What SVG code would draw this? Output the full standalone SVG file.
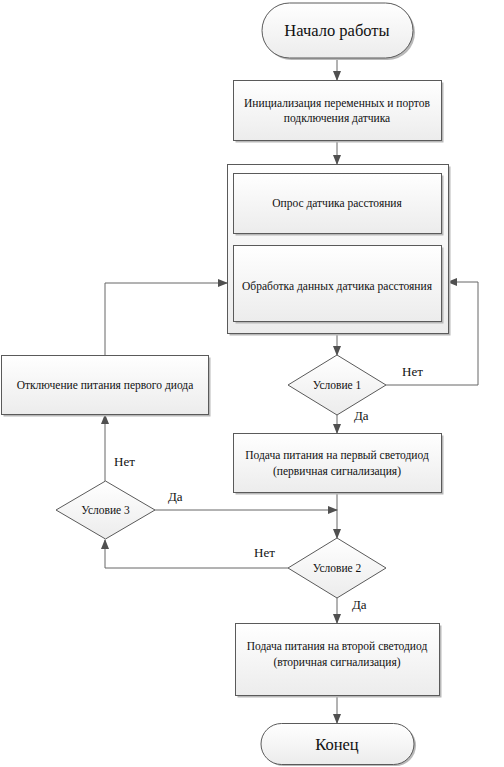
<svg xmlns="http://www.w3.org/2000/svg" width="504" height="767" viewBox="0 0 504 767">
<defs>
<linearGradient id="g" x1="0" y1="0" x2="0" y2="1">
<stop offset="0" stop-color="#ffffff"/>
<stop offset="1" stop-color="#ececec"/>
</linearGradient>
<marker id="ah" markerWidth="10" markerHeight="8" refX="9" refY="4" orient="auto" markerUnits="userSpaceOnUse">
<path d="M0,0 L10,4 L0,8 Z" fill="#505050"/>
</marker>
<style>
.sh{fill:#b8b8b8;stroke:none}
.nd{fill:url(#g);stroke:#5a5a5a;stroke-width:1}
text{font-family:'Liberation Serif','Times New Roman',serif;fill:#111}
.t{font-size:11.5px;text-anchor:middle}
.big{font-size:16.5px;text-anchor:middle}
.lb{font-size:13px}
.c{fill:none;stroke:#666;stroke-width:1}
</style>
</defs>
<rect width="504" height="767" fill="#fff"/>

<g id="connectors">
<line class="c" x1="337" y1="58" x2="337" y2="80" marker-end="url(#ah)"/>
<line class="c" x1="337" y1="140" x2="337" y2="164" marker-end="url(#ah)"/>
<line class="c" x1="337" y1="333" x2="337" y2="355" marker-end="url(#ah)"/>
<polyline class="c" points="386,385 478,385 478,282 448,282" marker-end="url(#ah)"/>
<line class="c" x1="337" y1="415" x2="337" y2="433" marker-end="url(#ah)"/>
<line class="c" x1="337" y1="492" x2="337" y2="538" marker-end="url(#ah)"/>
<polyline class="c" points="155,510 337,510" marker-end="url(#ah)"/>
<polyline class="c" points="288,568 105,568 105,540" marker-end="url(#ah)"/>
<line class="c" x1="105" y1="481" x2="105" y2="415" marker-end="url(#ah)"/>
<polyline class="c" points="105,355 105,283 227,283" marker-end="url(#ah)"/>
<line class="c" x1="337" y1="598" x2="337" y2="623" marker-end="url(#ah)"/>
<line class="c" x1="337" y1="695" x2="337" y2="723" marker-end="url(#ah)"/>
<text class="lb" x="402" y="376">Нет</text>
<text class="lb" x="354" y="420">Да</text>
<text class="lb" x="114" y="466">Нет</text>
<text class="lb" x="168" y="501">Да</text>
<text class="lb" x="254" y="557">Нет</text>
<text class="lb" x="352" y="609">Да</text>
</g>

<g id="start">
<rect class="sh" x="264" y="5" width="151" height="55" rx="27.5"/>
<rect class="nd" x="262" y="3" width="151" height="55" rx="27.5"/>
<text class="big" x="337" y="36">Начало работы</text>
</g>

<g id="init">
<rect class="sh" x="235.5" y="82.5" width="208" height="60"/>
<rect class="nd" x="233.5" y="80.5" width="208" height="60"/>
<text class="t" x="337" y="107">Инициализация переменных и портов</text>
<text class="t" x="337" y="122">подключения датчика</text>
</g>

<g id="loop">
<rect class="sh" x="229.5" y="166.5" width="221" height="169"/>
<rect class="nd" x="227.5" y="164.5" width="221" height="169"/>
</g>

<g id="poll">
<rect class="sh" x="235.5" y="175.5" width="208" height="60"/>
<rect class="nd" x="233.5" y="173.5" width="208" height="60"/>
<text class="t" x="337" y="207">Опрос датчика расстояния</text>
</g>

<g id="process">
<rect class="sh" x="235.5" y="247.5" width="208" height="76"/>
<rect class="nd" x="233.5" y="245.5" width="208" height="76"/>
<text class="t" x="337" y="290">Обработка данных датчика расстояния</text>
</g>

<g id="cond1">
<polygon class="nd" points="337,355 386,385 337,415 288,385"/>
<text class="t" x="337" y="389">Условие 1</text>
</g>

<g id="led1">
<rect class="sh" x="235.5" y="435.5" width="208" height="59"/>
<rect class="nd" x="233.5" y="433.5" width="208" height="59"/>
<text class="t" x="337" y="459">Подача питания на первый светодиод</text>
<text class="t" x="337" y="475">(первичная сигнализация)</text>
</g>

<g id="cond2">
<polygon class="nd" points="337,538 386,568 337,598 288,568"/>
<text class="t" x="337" y="572">Условие 2</text>
</g>

<g id="off">
<rect class="sh" x="3.5" y="357.5" width="207" height="59"/>
<rect class="nd" x="1.5" y="355.5" width="207" height="59"/>
<text class="t" x="105" y="389">Отключение питания первого диода</text>
</g>

<g id="cond3">
<polygon class="nd" points="105.5,481 155,510 105.5,539 56,510"/>
<text class="t" x="105.5" y="514">Условие 3</text>
</g>

<g id="led2">
<rect class="sh" x="237.5" y="625.5" width="204" height="72"/>
<rect class="nd" x="235.5" y="623.5" width="204" height="72"/>
<text class="t" x="337" y="650">Подача питания на второй светодиод</text>
<text class="t" x="337" y="666">(вторичная сигнализация)</text>
</g>

<g id="end">
<rect class="sh" x="263" y="725" width="153" height="41" rx="20.5"/>
<rect class="nd" x="261" y="723.5" width="153" height="41" rx="20.5"/>
<text class="big" x="337" y="750">Конец</text>
</g>
</svg>
